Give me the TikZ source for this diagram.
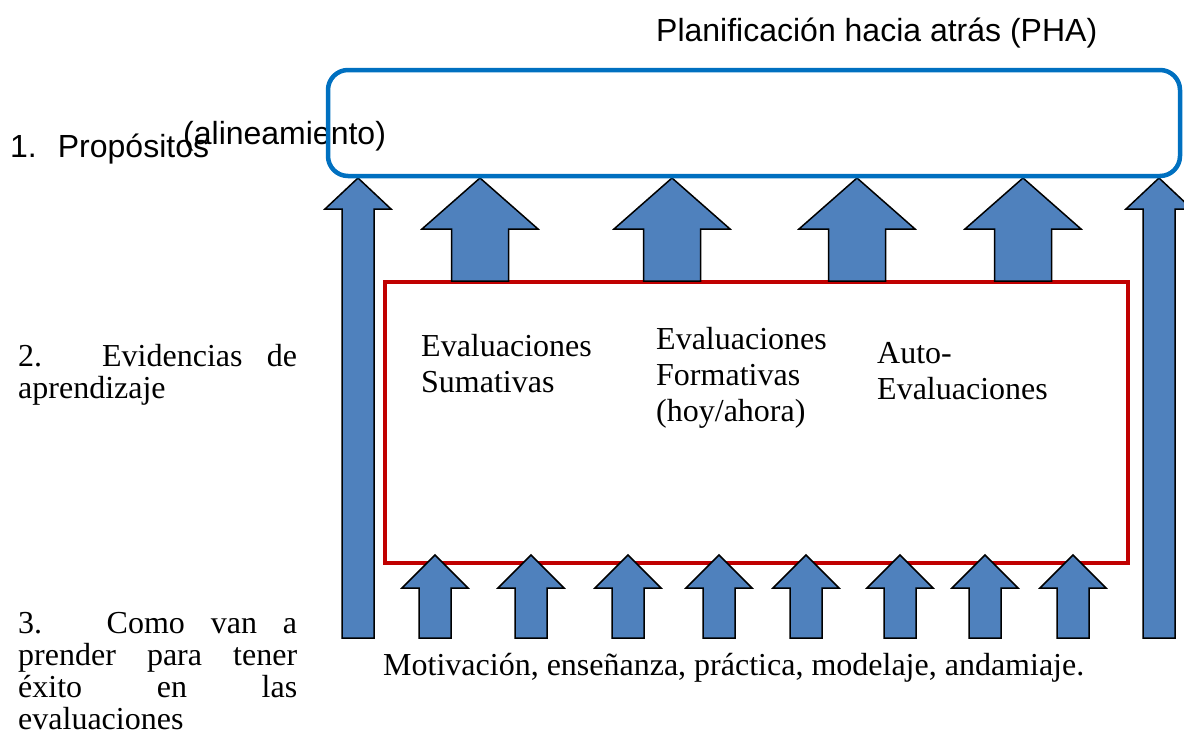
\documentclass[tikz,border=0pt]{standalone}
\usepackage{fontspec}
\setmainfont{Liberation Serif}
\newfontfamily\arialf{Liberation Sans}
\definecolor{boxblue}{HTML}{0070C0}
\definecolor{boxred}{HTML}{C00000}
\definecolor{arrfill}{HTML}{4F81BD}
% #1 tip x, #2 tip y, #3 head base y, #4 bottom y, #5 head half width, #6 shaft half width
\newcommand{\blockup}[6]{%
  \draw[blockarr] (#1,#2) -- ({#1+#5},#3) -- ({#1+#6},#3) -- ({#1+#6},#4)
    -- ({#1-#6},#4) -- ({#1-#6},#3) -- ({#1-#5},#3) -- cycle;}
\begin{document}
\begin{tikzpicture}[x=1pt,y=-1pt,
  blockarr/.style={fill=arrfill,draw=black,line width=1.5pt,line join=miter},
  lbl/.style={inner sep=0pt,anchor=base west},
  arialtxt/.style={font=\arialf\fontsize{32}{38}\selectfont},
  sertxt/.style={font=\fontsize{32}{36}\selectfont, align=left}]
\useasboundingbox (0,0) rectangle (1184,747);

% red evidence box
\node[draw=boxred,line width=4pt,inner sep=0pt,minimum width=743pt,minimum height=281pt]
  (redbox) at (756.5,422.2) {};

% top arrows
\blockup{480}{178}{229}{281}{58}{28.5}
\blockup{672}{178}{229}{281}{58}{28.5}
\blockup{857}{178}{229}{281}{58}{28.5}
\blockup{1023}{178}{229}{281}{58}{28.5}
% tall arrows
\blockup{358}{178}{209}{638}{33}{16}
\blockup{1159}{178}{209}{638}{33}{16}
% small arrows
\foreach \ax in {435,531,628,719,806,900,985,1073}{
  \blockup{\ax}{555}{588}{638}{33}{16}
}

% texts (base anchor = baseline of the last line)
\node[lbl,arialtxt] (title) at (656,41) {Planificación hacia atrás (PHA)};
\node[lbl,arialtxt] (prop) at (10,157) {1.\hspace{21pt}Propósitos};
\node[lbl,arialtxt] (alin) at (183,144) {(alineamiento)};

\node[lbl,font=\fontsize{32}{32}\selectfont,align=left] (evid) at (18,398)
  {\makebox[279pt][s]{2. Evidencias de}\\aprendizaje};
\node[lbl,font=\fontsize{32}{32}\selectfont,align=left] (como) at (18,729)
  {\makebox[279pt][s]{3. Como van a}\\\makebox[279pt][s]{prender para tener}\\\makebox[279pt][s]{éxito en las}\\evaluaciones};

\node[lbl,sertxt] (suma) at (421,392) {Evaluaciones\\Sumativas};
\node[lbl,sertxt] (forma) at (656,421) {Evaluaciones\\Formativas\\(hoy/ahora)};
\node[lbl,sertxt] (auto) at (877,399) {Auto-\\Evaluaciones};
\node[lbl,font=\fontsize{32}{36}\selectfont] (motiv) at (383,675)
  {Motivación, enseñanza, práctica, modelaje, andamiaje.};

% blue purposes box
\node[draw=boxblue,line width=4.5pt,rounded corners=20pt,inner sep=0pt,
  minimum width=852pt,minimum height=106pt] (purp) at (754,123) {};
\end{tikzpicture}
\end{document}
